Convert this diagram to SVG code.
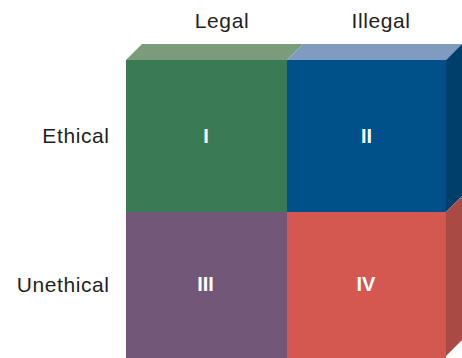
<svg xmlns="http://www.w3.org/2000/svg" width="462" height="358" viewBox="0 0 462 358">
<style>
.lbl{font-family:"Liberation Sans",Arial,sans-serif;font-size:21px;letter-spacing:0.6px;fill:#231f20}
.num{font-family:"Liberation Sans",Arial,sans-serif;font-size:20px;font-weight:bold;fill:#ffffff;text-anchor:middle}
</style>
<rect width="462" height="358" fill="#ffffff"/>
<g id="top-face">
<polygon points="126,60 142,44 303,44 287,60" fill="#7b9c7b"/>
<polygon points="287,60 303,44 462,44 446,60" fill="#7f9bbf"/>
</g>
<g id="side-face">
<polygon points="446,60 462,44 462,196 446,212" fill="#003f6c"/>
<polygon points="446,212 462,196 462,340 446,356 446,358" fill="#aa4a45"/>
</g>
<g id="cell-I">
<rect x="126" y="60" width="161" height="152" fill="#3a7a55"/>
<text class="num" x="206" y="143">I</text>
</g>
<g id="cell-II">
<rect x="287" y="60" width="159" height="152" fill="#005189"/>
<text class="num" x="366.5" y="143">II</text>
</g>
<g id="cell-III">
<rect x="126" y="212" width="161" height="146" fill="#725779"/>
<text class="num" x="205.5" y="291">III</text>
</g>
<g id="cell-IV">
<rect x="287" y="212" width="159" height="146" fill="#d45750"/>
<text class="num" x="366" y="291">IV</text>
</g>
<g id="labels">
<text class="lbl" x="222" y="28" text-anchor="middle">Legal</text>
<text class="lbl" x="381" y="28" text-anchor="middle">Illegal</text>
<text class="lbl" x="109.6" y="143" text-anchor="end">Ethical</text>
<text class="lbl" x="109.6" y="292" text-anchor="end">Unethical</text>
</g>
<g id="connectors"/>
</svg>
